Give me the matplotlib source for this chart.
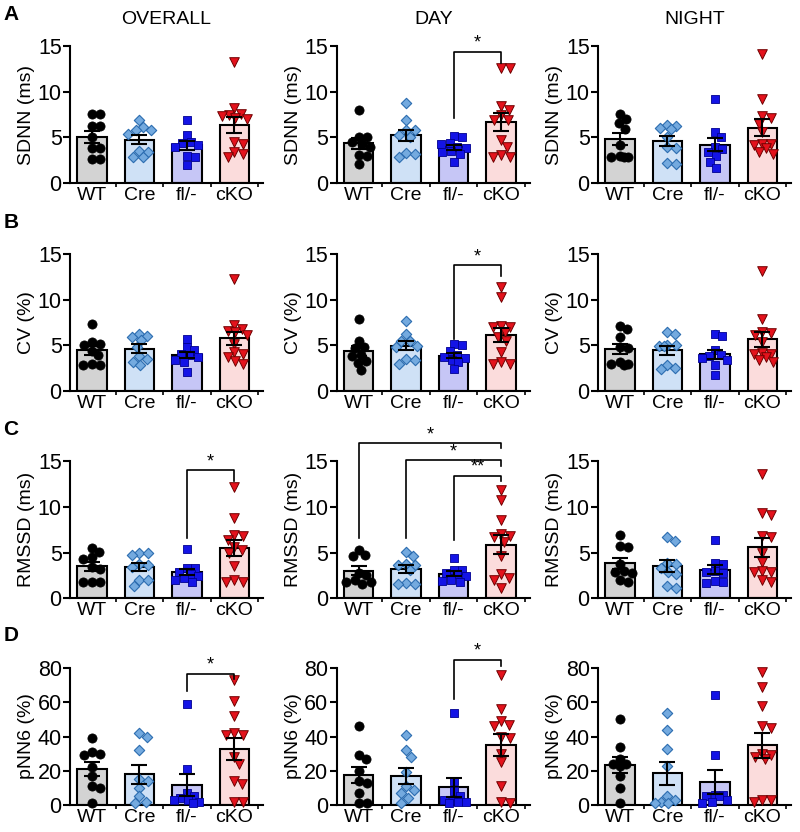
import numpy as np
import matplotlib
matplotlib.use("Agg")
import matplotlib.pyplot as plt

plt.rcParams['font.family'] = ['Liberation Sans', 'DejaVu Sans']

# ---------------- data ----------------
groups = ["WT", "Cre", "fl/-", "cKO"]
columns = ["OVERALL", "DAY", "NIGHT"]
row_letters = ["A", "B", "C", "D"]
ylabels = ["SDNN (ms)", "CV (%)", "RMSSD (ms)", "pNN6 (%)"]
yticks_ms = [0, 5, 10, 15]
yticks_pct = [0, 20, 40, 60, 80]

sdnn_overall = [[7.6, 7.6, 6.3, 6.3, 5.0, 3.8, 3.8, 2.6, 2.6],
                [6.9, 6.1, 5.8, 5.8, 5.4, 3.5, 3.4, 2.9, 2.9],
                [6.9, 5.3, 4.5, 4.4, 4.2, 3.9, 3.0, 2.9, 2.0],
                [13.3, 8.2, 7.6, 7.5, 7.3, 7.1, 7.0, 4.5, 4.3, 3.4, 3.2, 2.9]]
sdnn_day = [[8.0, 5.1, 5.0, 4.5, 4.3, 4.0, 3.1, 3.0, 2.1],
            [8.75, 6.9, 5.8, 5.8, 5.3, 5.0, 3.3, 3.2, 2.9],
            [5.2, 5.0, 4.4, 4.3, 4.0, 3.8, 3.5, 3.4, 3.2, 2.3],
            [12.6, 12.6, 8.4, 8.0, 7.5, 6.9, 6.9, 4.7, 4.0, 3.1, 2.9, 2.9]]
sdnn_night = [[7.6, 7.0, 6.6, 5.9, 4.2, 3.0, 2.9, 2.9, 2.9],
              [6.4, 6.3, 6.0, 5.9, 5.0, 3.9, 3.8, 2.2, 2.1],
              [9.2, 5.6, 5.1, 4.0, 3.7, 3.4, 3.0, 2.3, 1.6],
              [14.1, 9.2, 7.3, 7.1, 6.5, 5.6, 4.3, 4.3, 4.2, 3.8, 3.4, 3.2]]

cv_overall = [[7.4, 5.4, 5.2, 5.1, 4.4, 3.9, 3.0, 2.9, 2.8],
              [6.3, 6.0, 5.9, 5.6, 4.8, 3.8, 3.5, 3.2, 2.8],
              [5.7, 4.8, 4.5, 4.1, 3.9, 3.7, 3.4, 3.2, 2.1],
              [12.3, 7.2, 6.8, 6.6, 6.5, 6.1, 5.2, 4.3, 4.1, 3.7, 3.3, 3.0]]
cv_day = [[7.9, 5.5, 4.8, 4.7, 4.0, 3.8, 3.3, 3.1, 2.3],
          [7.7, 6.3, 5.5, 5.5, 4.9, 4.8, 3.5, 3.4, 3.0],
          [5.2, 5.0, 4.4, 4.0, 3.7, 3.6, 3.4, 3.2, 2.4],
          [11.4, 10.3, 7.1, 7.0, 7.0, 6.5, 5.9, 5.5, 4.3, 3.2, 3.0, 3.0]]
cv_night = [[7.1, 6.8, 5.9, 4.8, 4.7, 3.2, 3.0, 3.0, 2.8],
            [6.5, 6.2, 5.0, 5.0, 4.9, 4.9, 2.9, 2.5, 2.4],
            [6.3, 6.0, 4.5, 4.0, 3.8, 3.6, 3.4, 2.8, 1.8],
            [13.2, 7.9, 6.5, 6.4, 6.1, 5.4, 4.2, 4.1, 4.1, 3.7, 3.4, 3.2]]

rmssd_overall = [[5.5, 5.1, 4.5, 4.3, 3.4, 3.2, 1.8, 1.8, 1.8],
                 [5.0, 4.9, 4.7, 3.7, 3.6, 3.4, 2.0, 2.0, 1.3],
                 [5.4, 3.3, 3.3, 2.9, 2.7, 2.4, 2.2, 2.0, 1.8],
                 [12.2, 8.8, 6.9, 6.8, 6.4, 5.6, 5.3, 4.9, 3.5, 2.0, 1.8, 1.8]]
rmssd_day = [[5.3, 4.7, 4.6, 2.8, 2.5, 2.0, 1.8, 1.8, 1.6],
             [5.1, 4.6, 3.7, 3.6, 3.6, 3.1, 1.7, 1.6, 1.6],
             [4.4, 3.1, 3.1, 2.8, 2.6, 2.4, 2.0, 1.9, 1.8],
             [11.9, 10.8, 8.6, 7.0, 6.8, 6.7, 6.2, 4.6, 2.6, 2.2, 2.0, 1.1]]
rmssd_night = [[6.9, 5.7, 5.6, 3.8, 3.0, 2.9, 2.8, 2.0, 1.8],
               [6.7, 6.3, 3.9, 3.7, 3.3, 2.9, 2.6, 1.3, 1.1],
               [6.4, 3.9, 3.7, 3.0, 2.9, 2.8, 1.9, 1.8, 1.7],
               [13.6, 9.3, 9.1, 6.8, 6.7, 4.9, 4.0, 3.0, 2.9, 2.9, 2.0, 1.8]]

pnn6_overall = [[39, 31, 30, 29, 22, 17, 11, 10, 1],
                [42, 40, 32, 15, 14, 10, 5, 2, 1],
                [59, 21, 7, 5, 4, 3, 3, 2, 1],
                [73, 61, 52, 42, 41, 41, 28, 24, 14, 12, 2, 2]]
pnn6_day = [[46, 29, 27, 20, 14, 13, 7, 1, 1],
            [41, 32, 28, 19, 11, 9, 7, 4, 1],
            [54, 14, 8, 5, 3, 3, 2, 2, 1],
            [76, 56, 49, 47, 46, 40, 39, 30, 25, 11, 2, 1]]
pnn6_night = [[50, 34, 27, 24, 24, 23, 17, 10, 1],
              [54, 44, 33, 23, 5, 3, 2, 1, 1],
              [64, 29, 6, 6, 5, 5, 3, 2, 1],
              [78, 69, 58, 46, 45, 30, 29, 28, 27, 3, 3, 2]]

panels = [[sdnn_overall, sdnn_day, sdnn_night],
          [cv_overall, cv_day, cv_night],
          [rmssd_overall, rmssd_day, rmssd_night],
          [pnn6_overall, pnn6_day, pnn6_night]]

# significance brackets: (row, col, from_group, to_group, top, left_end, right_end, label)
brackets = [(0, 1, 2, 3, 14.4, 7.1, 13.2, "*"),
            (1, 1, 2, 3, 13.8, 5.7, 12.6, "*"),
            (2, 0, 2, 3, 14.0, 6.6, 12.8, "*"),
            (2, 1, 0, 3, 17.0, 6.6, 16.5, "*"),
            (2, 1, 1, 3, 15.1, 6.6, 14.5, "*"),
            (2, 1, 2, 3, 13.4, 6.4, 12.9, "**"),
            (3, 0, 2, 3, 76.6, 66.8, 73.7, "*"),
            (3, 1, 2, 3, 85.0, 62.0, 81.5, "*")]

# ---------------- style ----------------
bar_colors = ["#d3d3d3", "#cfe1f6", "#c6c6f6", "#fbdcdc"]
mk_styles = [dict(marker="o", s=44, facecolor="#000000", edgecolor="#000000", linewidths=0.5),
             dict(marker="D", s=28, facecolor="#74aadf", edgecolor="#2b6cb0", linewidths=0.8),
             dict(marker="s", s=38, facecolor="#1414e6", edgecolor="#000090", linewidths=0.6),
             dict(marker="v", s=48, facecolor="#e4121c", edgecolor="#700000", linewidths=0.7)]

col_lefts = [0.0875, 0.421, 0.7475]
col_width = 0.241
row_bottoms = [0.780, 0.530, 0.281, 0.0325]
row_height = 0.1645

fig = plt.figure(figsize=(8, 8.32), dpi=100)


def swarm_offsets(ax, xc, vals, diam=8.0, max_off=0.27, step=0.02):
    vals = np.asarray(vals, float)
    order = np.argsort(-vals)
    cands = [0.0]
    k = 1
    while k * step <= max_off + 1e-9:
        cands += [k * step, -k * step]
        k += 1
    placed = []
    offs = np.zeros(len(vals))
    for i in order:
        chosen, best_c, best_d = None, 0.0, -1
        for c in cands:
            px, py = ax.transData.transform((xc + c, vals[i]))
            d = min((np.hypot(px - qx, py - qy) for qx, qy in placed), default=1e9)
            if d >= diam:
                chosen = c
                break
            if d > best_d:
                best_d, best_c = d, c
        if chosen is None:
            chosen = best_c
        offs[i] = chosen
        placed.append(tuple(ax.transData.transform((xc + chosen, vals[i]))))
    return offs


axes = {}
for r in range(4):
    for c in range(3):
        ax = fig.add_axes([col_lefts[c], row_bottoms[r], col_width, row_height])
        axes[(r, c)] = ax
        data = panels[r][c]
        ymax = 80 if r == 3 else 15
        ax.set_xlim(-0.46, 3.6)
        ax.set_ylim(0, ymax)
        x = np.arange(len(groups))
        means = [np.mean(d) for d in data]
        sems = [np.std(d, ddof=1) / np.sqrt(len(d)) for d in data]
        ax.bar(x, means, width=0.62, color=bar_colors, edgecolor="black",
               linewidth=1.5, zorder=1)
        for g in range(4):
            offs = swarm_offsets(ax, x[g], data[g])
            ax.scatter(x[g] + offs, data[g], zorder=3, clip_on=False, **mk_styles[g])
        ax.errorbar(x, means, yerr=sems, fmt="none", ecolor="black", elinewidth=1.5,
                    capsize=6, capthick=1.5, zorder=4)
        for s in ["top", "right"]:
            ax.spines[s].set_visible(False)
        for s in ["left", "bottom"]:
            ax.spines[s].set_linewidth(1.5)
        ax.set_yticks(yticks_pct if r == 3 else yticks_ms)
        ax.tick_params(axis="y", length=5, width=1.5, labelsize=15.5, pad=1)
        ax.set_xticks(x)
        ax.set_xticklabels(groups)
        ax.tick_params(axis="x", length=0, labelsize=14, pad=3)
        ax.set_xticks([0.5, 1.5, 2.5, 3.5], minor=True)
        ax.tick_params(axis="x", which="minor", length=3, width=1.2)
        ax.set_ylabel(ylabels[r], fontsize=14)
        ax.yaxis.set_label_coords(-0.18, 0.5)

for (r, c, g0, g1, top, lend, rend, lab) in brackets:
    ax = axes[(r, c)]
    ax.plot([g0, g0, g1, g1], [lend, top, top, rend], color="black", lw=1.2,
            clip_on=False, zorder=5)
    ax.text((g0 + g1) / 2, top, lab, ha="center", va="bottom", fontsize=13,
            clip_on=False)

for c, title in enumerate(columns):
    fig.text(col_lefts[c] + col_width / 2, 0.977, title, ha="center", va="center",
             fontsize=14)

letter_y = [0.982, 0.733, 0.484, 0.236]
for r, lab in enumerate(row_letters):
    fig.text(0.004, letter_y[r], lab, ha="left", va="center", fontsize=15,
             fontweight="bold")

fig.savefig("out.png", dpi=100)
